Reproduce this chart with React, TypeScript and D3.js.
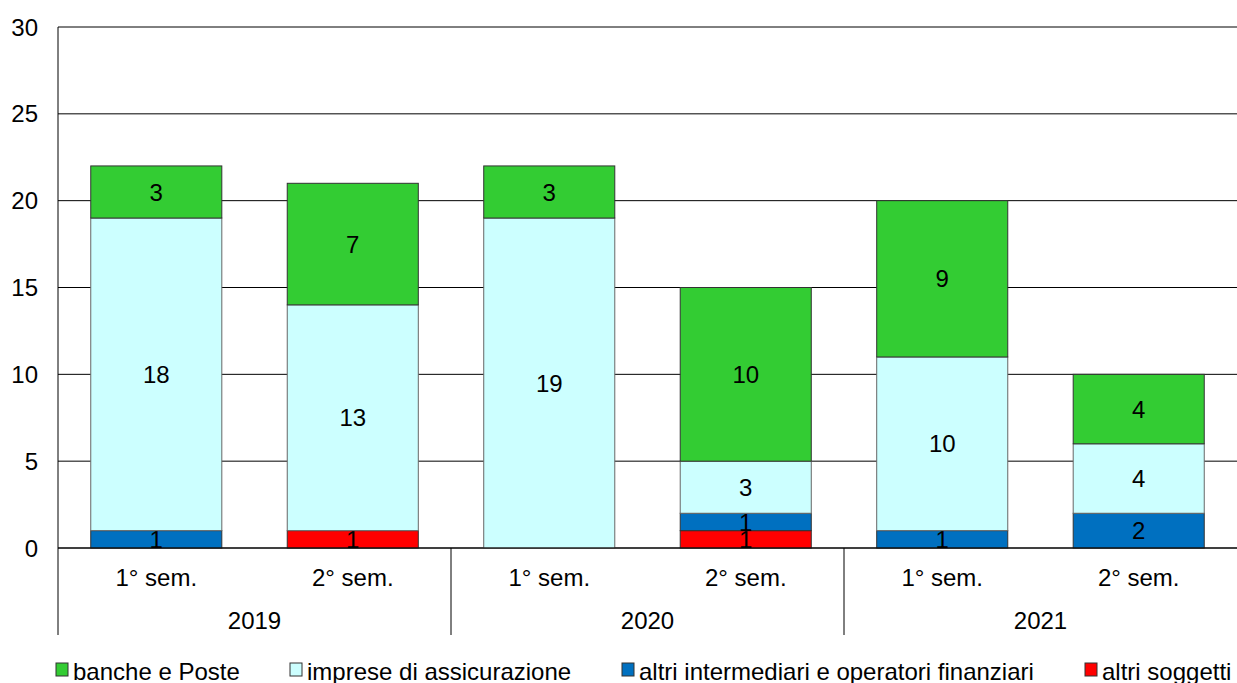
import React, { useEffect } from "react";
import * as d3 from "d3";

const categories = ["1° sem.", "2° sem.", "1° sem.", "2° sem.", "1° sem.", "2° sem."];
const years = ["2019", "2020", "2021"];
const seriesNames = ["altri soggetti", "altri intermediari e operatori finanziari", "imprese di assicurazione", "banche e Poste"];
const altriSoggetti = [0, 1, 0, 1, 0, 0];
const altriIntermediari = [1, 0, 0, 1, 1, 2];
const impreseAssicurazione = [18, 13, 19, 3, 10, 4];
const banchePoste = [3, 7, 3, 10, 9, 4];
const yTicks = [0, 5, 10, 15, 20, 25, 30];

const colors = ["#FF0000", "#0070C0", "#CCFFFF", "#33CC33"];
const legendOrder = [3, 2, 1, 0];
const legendX = [56, 290, 622, 1085];

export default function App() {
  useEffect(() => {
    document.body.style.margin = "0";
  }, []);
  const W = 1237, H = 683;
  const x0 = 58, x1 = 1237;
  const y = d3.scaleLinear().domain([0, 30]).range([548, 27]);
  const idx = categories.map((_, i) => i);
  const x = d3.scaleBand<number>().domain(idx).range([x0, x1]).paddingInner(0.333).paddingOuter(0.1667);
  const values = [altriSoggetti, altriIntermediari, impreseAssicurazione, banchePoste];
  const table = idx.map((i) => {
    const o: any = { i };
    seriesNames.forEach((s, k) => (o[s] = values[k][i]));
    return o;
  });
  const stack = d3.stack<any>().keys(seriesNames)(table);
  const groupW = (x1 - x0) / years.length;
  const font = "'Liberation Sans', Arial, sans-serif";
  const fs = 24;
  return (
    <svg width={W} height={H} style={{ display: "block", fontFamily: font }}>
      {yTicks.map((t) => (
        <g key={t}>
          <line x1={x0} x2={x1} y1={y(t)} y2={y(t)} stroke="#000" strokeWidth={1} />
          <text x={38} y={y(t)} dy="0.36em" textAnchor="end" fontSize={fs}>{t}</text>
        </g>
      ))}
      {stack.map((layer, k) => (
        <g key={k}>
          {layer.map((d, i) => {
            const v = d[1] - d[0];
            if (v <= 0) return null;
            const xb = x(i)!;
            return (
              <g key={i}>
                <rect x={xb} y={y(d[1])} width={x.bandwidth()} height={y(d[0]) - y(d[1])} fill={colors[k]} stroke={k === 2 ? "#666" : "#333"} strokeWidth={1} />
                <text x={xb + x.bandwidth() / 2} y={(y(d[0]) + y(d[1])) / 2} dy="0.36em" textAnchor="middle" fontSize={fs}>{v}</text>
              </g>
            );
          })}
        </g>
      ))}
      <line x1={x0} x2={x1} y1={y(0)} y2={y(0)} stroke="#000" strokeWidth={1} />
      <line x1={x0} x2={x0} y1={y(30)} y2={635} stroke="#000" strokeWidth={1} />
      {years.map((yr, g) => (
        <g key={yr}>
          {g > 0 && <line x1={x0 + g * groupW} x2={x0 + g * groupW} y1={y(0)} y2={635} stroke="#000" strokeWidth={1} />}
          <text x={x0 + (g + 0.5) * groupW} y={620} dy="0.36em" textAnchor="middle" fontSize={fs}>{yr}</text>
        </g>
      ))}
      {categories.map((c, i) => (
        <text key={i} x={x(i)! + x.bandwidth() / 2} y={577} dy="0.36em" textAnchor="middle" fontSize={fs}>{c}</text>
      ))}
      {legendOrder.map((k, j) => (
        <g key={k}>
          <rect x={legendX[j]} y={663} width={12} height={13} fill={colors[k]} stroke="#333" strokeWidth={1} />
          <text x={legendX[j] + 17} y={680} fontSize={fs}>{seriesNames[k]}</text>
        </g>
      ))}
    </svg>
  );
}
